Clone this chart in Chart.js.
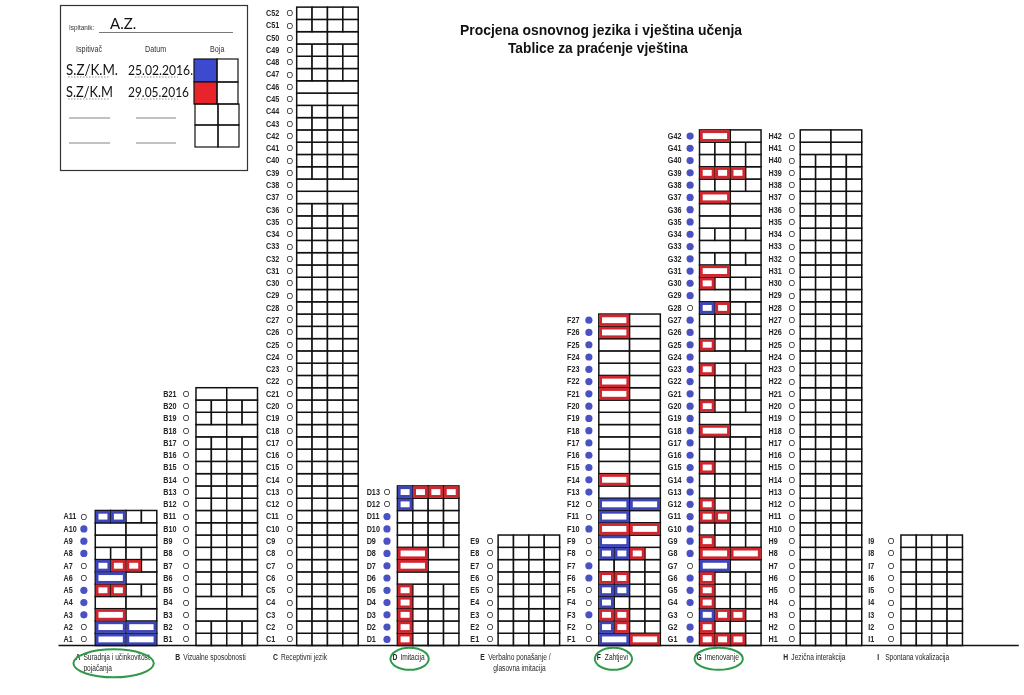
<!DOCTYPE html>
<html><head><meta charset="utf-8">
<script src="https://cdn.jsdelivr.net/npm/chart.js@4.4.0/dist/chart.umd.min.js"></script>
<style>html,body{margin:0;padding:0;background:#fff;overflow:hidden}canvas{display:block}</style>
</head><body>
<canvas id="c" width="1024" height="695"></canvas>
<script>
// ---------------- DATA ----------------
const groups = ['A','B','C','D','E','F','G','H','I'];
const groupNames = [
  ['Suradnja i učinkovitost','pojačanja'],
  ['Vizualne sposobnosti'],
  ['Receptivni jezik'],
  ['Imitacija'],
  ['Verbalno ponašanje /','glasovna imitacija'],
  ['Zahtjevi'],
  ['Imenovanje'],
  ['Jezična interakcija'],
  ['Spontana vokalizacija']
];
const circledGroups = ['A','D','F','G'];

// row markers, row 1 upward: 'o' = letter O, 'x' = blue dot
const markersA = 'ooxxxooxxxo';
const markersB = 'ooooooooooooooooooooo';
const markersC = 'oooooooooooooooooooooooooooooooooooooooooooooooooooo';
const markersD = 'xxxxxxxxxxxoo';
const markersE = 'ooooooooo';
const markersF = 'ooxooxxooxooxxxxxxxxxxxxxxx';
const markersG = 'xxoxxxoxxxxxxxxxxxxxxxxxxxxoxxxxxxxxxxxxxx';
const markersH = 'oooooooooooooooooooooooooooooooooooooooooo';
const markersI = 'ooooooooo';

// cells, row 1 upward: string length = number of cells (2 or 4);
// char: '.' empty, 'b' marked blue (25.02.2016), 'r' marked red (29.05.2016)
const cellsA = ['bb','bb','r.','..','rr..','b.','brr.','....','..','..','bb..'];
const cellsB = ['....','....','..','..','....','....','....','....','....','....','....','....','....','....','....','....','....','..','....','....','..'];
const cellsC = ['....','....','....','....','....','....','....','....','....','....',
                '....','....','....','....','....','....','....','....','....','....',
                '....','....','....','....','....','....','....','....','....','....',
                '....','....','....','....','....','....','..','..','....','....',
                '....','....','....','....','..','..','....','....','....','..',
                '....','....'];
const cellsD = ['r...','r...','r...','r...','r...','..','r.','r.','....','....','....','b...','brrr'];
const cellsE = ['....','....','....','....','....','....','....','....','....'];
const cellsF = ['br','br..','rr..','b...','bb..','rr..','....','bbr.','b.','rr','b.','bb','..','r.',
                '..','..','..','..','..','..','r.','r.','..','..','..','r.','r.'];
const cellsG = ['rrr.','r...','brr.','r...','r...','r...','b.','rr','r...','....','rr..','r...','....','....',
                'r...','....','....','r.','..','r...','....','....','r...','..','r...','....','....','br..',
                '..','r...','r.','....','..','....','..','..','r.','....','rrr.','....','....','r.'];
const cellsH = ['....','....','....','....','....','....','....','....','....','....',
                '....','....','....','....','....','....','....','....','....','....',
                '....','....','....','....','....','....','....','....','....','....',
                '....','....','....','....','....','....','....','....','....','....',
                '..','..'];
const cellsI = ['....','....','....','....','....','....','....','....','....'];

const examiners = ['S.Z/K.M.','S.Z/K.M'];
const examDates = ['25.02.2016.','29.05.2016'];
const subject = 'A.Z.';
const titleLines = ['Procjena osnovnog jezika i vještina učenja','Tablice za praćenje vještina'];

const markers = [markersA,markersB,markersC,markersD,markersE,markersF,markersG,markersH,markersI];
const cells = [cellsA,cellsB,cellsC,cellsD,cellsE,cellsF,cellsG,cellsH,cellsI];

// ---------------- LAYOUT / STYLE ----------------
const PX_GROUP = 101.5, PX_ROW = 12.42;
const X_MIN = -92 / PX_GROUP, X_MAX = X_MIN + 1024 / PX_GROUP;
const Y_MAX = 649 / PX_ROW, Y_MIN = Y_MAX - 695 / PX_ROW;
const GRID_W = 62 / PX_GROUP;
const labelDx = [-32,-33,-31,-31,-28,-32,-32,-32,-33];
const markDx  = [-11.5,-10,-7,-10.5,-8,-10,-9.5,-8.5,-10];
const captionDx = [-20,-21,-24,-5,-18,-2,-3,-17,-24];
const COLORS = {b:'#3d45b8', r:'#d2262f', dot:'#4a51c2', swB:'#3c4ad0', swR:'#e8232b', green:'#2e9a4a', ink:'#262626'};

function condText(ctx, text, x, y, sx, align) {
  ctx.save();
  ctx.translate(x, y);
  ctx.scale(sx, 1);
  ctx.textAlign = align || 'left';
  ctx.fillText(text, 0, 0);
  ctx.restore();
  return ctx.measureText(text).width * sx;
}

const sheetPlugin = {
  id: 'sheet',
  beforeDraw(chart) {
    const ctx = chart.ctx;
    ctx.save(); ctx.fillStyle = '#fff'; ctx.fillRect(0, 0, chart.width, chart.height); ctx.restore();
  },
  beforeDatasetsDraw(chart) {
    const {ctx, scales: {x, y}} = chart;
    const X = v => x.getPixelForValue(v), Y = v => y.getPixelForValue(v);
    ctx.save();
    // grid cells
    ctx.strokeStyle = '#111'; ctx.lineWidth = 1.5;
    cells.forEach((col, gi) => {
      col.forEach((code, ri) => {
        const r = ri + 1, n = code.length, w = GRID_W / n;
        for (let k = 0; k < n; k++) {
          const x0 = X(gi + k * w), x1 = X(gi + (k + 1) * w);
          const y0 = Y(r), y1 = Y(r - 1);
          ctx.fillStyle = '#fff';
          ctx.fillRect(x0, y0, x1 - x0, y1 - y0);
          ctx.strokeRect(x0, y0, x1 - x0, y1 - y0);
        }
      });
    });
    // marks
    ctx.lineWidth = 2.8;
    cells.forEach((col, gi) => {
      col.forEach((code, ri) => {
        const r = ri + 1, n = code.length, w = GRID_W / n;
        for (let k = 0; k < n; k++) {
          const c = code[k];
          if (c === '.') continue;
          const x0 = X(gi + k * w) + 1.8, x1 = X(gi + (k + 1) * w) - 1.8;
          const y0 = Y(r) + 1.8, y1 = Y(r - 1) - 1.8;
          ctx.strokeStyle = COLORS[c];
          ctx.strokeRect(x0, y0, x1 - x0, y1 - y0);
        }
      });
    });
    // baseline
    ctx.strokeStyle = '#111'; ctx.lineWidth = 1.6;
    ctx.beginPath(); ctx.moveTo(X(-0.365), Y(0)); ctx.lineTo(X(9.17), Y(0)); ctx.stroke();
    // row labels + O markers
    ctx.fillStyle = COLORS.ink; ctx.textBaseline = 'middle';
    markers.forEach((m, gi) => {
      for (let r = 1; r <= m.length; r++) {
        ctx.font = 'bold 8.5px "Liberation Sans", Arial, sans-serif';
        condText(ctx, groups[gi] + r, X(gi + labelDx[gi] / PX_GROUP), Y(r - 0.5) + 0.5, 0.85);
        if (m[r - 1] === 'o') {
          ctx.font = '9px "Liberation Sans", Arial, sans-serif';
          condText(ctx, 'O', X(gi + markDx[gi] / PX_GROUP), Y(r - 0.5) + 0.5, 0.95, 'center');
        }
      }
    });
    // captions
    groups.forEach((g, gi) => {
      const cx = X(gi + captionDx[gi] / PX_GROUP);
      const cy = Y(-1.0);
      ctx.fillStyle = COLORS.ink;
      ctx.font = 'bold 8.5px "Liberation Sans", Arial, sans-serif';
      condText(ctx, g, cx, cy, 0.8);
      ctx.font = '8.5px "Liberation Sans", Arial, sans-serif';
      const nx = cx + 8;
      const w1 = condText(ctx, groupNames[gi][0], nx, cy, 0.78);
      let lines = 1;
      if (groupNames[gi][1]) {
        lines = 2;
        if (g === 'E') condText(ctx, groupNames[gi][1], nx + w1 / 2, Y(-1.9), 0.78, 'center');
        else condText(ctx, groupNames[gi][1], nx, Y(-1.9), 0.78);
      }
      if (circledGroups.includes(g)) {
        ctx.strokeStyle = COLORS.green; ctx.lineWidth = 2;
        const left = cx - 1, right = nx + w1 + 3;
        const ecx = (left + right) / 2, rx = (right - left) / 2 + 1;
        const ecy = lines === 2 ? (cy + Y(-1.9)) / 2 : cy + 1;
        const ry = lines === 2 ? 14 : 11;
        ctx.beginPath(); ctx.ellipse(ecx, ecy, rx, ry, 0, 0, Math.PI * 2); ctx.stroke();
      }
    });
    // title
    ctx.fillStyle = '#111'; ctx.textAlign = 'center';
    ctx.font = 'bold 15px "Liberation Sans", Arial, sans-serif';
    ctx.fillText(titleLines[0], 601, 31, 282);
    ctx.fillText(titleLines[1], 598, 49, 180);
    // legend box
    ctx.textAlign = 'left';
    ctx.strokeStyle = '#333'; ctx.lineWidth = 1.2;
    ctx.strokeRect(60.5, 5.5, 187, 165);
    ctx.fillStyle = '#333';
    ctx.font = '8px "Liberation Sans", Arial, sans-serif';
    condText(ctx, 'Ispitanik:', 69, 28, 0.8);
    ctx.fillStyle = '#111';
    ctx.font = '15px Lato, "Open Sans", sans-serif';
    ctx.fillText(subject, 110, 24);
    ctx.strokeStyle = '#555'; ctx.lineWidth = 0.8;
    ctx.beginPath(); ctx.moveTo(99, 32.5); ctx.lineTo(233, 32.5); ctx.stroke();
    ctx.fillStyle = '#333';
    ctx.font = '9px "Liberation Sans", Arial, sans-serif';
    condText(ctx, 'Ispitivač', 76, 50, 0.8);
    condText(ctx, 'Datum', 145, 50, 0.8);
    condText(ctx, 'Boja', 210, 50, 0.8);
    ctx.fillStyle = '#111';
    const rowY = [70, 92];
    examiners.forEach((e, i) => {
      ctx.font = '15px Lato, "Open Sans", sans-serif';
      ctx.fillText(e, 66, rowY[i], i === 0 ? 52 : 47);
      ctx.font = '14px Lato, "Open Sans", sans-serif';
      ctx.fillText(examDates[i], 128, rowY[i], i === 0 ? 65 : 61);
      ctx.strokeStyle = '#777'; ctx.lineWidth = 0.8; ctx.setLineDash([1.5, 1.5]);
      ctx.beginPath(); ctx.moveTo(68, rowY[i] + 7); ctx.lineTo(110, rowY[i] + 7); ctx.stroke();
      ctx.beginPath(); ctx.moveTo(135, rowY[i] + 7); ctx.lineTo(178, rowY[i] + 7); ctx.stroke();
      ctx.setLineDash([]);
    });
    ctx.strokeStyle = '#666'; ctx.lineWidth = 0.8;
    [118, 143].forEach(yy => {
      ctx.beginPath(); ctx.moveTo(69, yy); ctx.lineTo(110, yy); ctx.stroke();
      ctx.beginPath(); ctx.moveTo(136, yy); ctx.lineTo(176, yy); ctx.stroke();
    });
    const sRows = [59, 82, 104, 125, 147], sCols = [194, 217, 238];
    for (let i = 0; i < 4; i++) {
      for (let j = 0; j < 2; j++) {
        const x0 = sCols[j] + (i >= 2 ? 1 : 0), x1 = sCols[j + 1] + (i >= 2 ? 1 : 0);
        if (j === 0 && i === 0) { ctx.fillStyle = COLORS.swB; ctx.fillRect(x0, sRows[i], x1 - x0, sRows[i + 1] - sRows[i]); }
        if (j === 0 && i === 1) { ctx.fillStyle = COLORS.swR; ctx.fillRect(x0, sRows[i], x1 - x0, sRows[i + 1] - sRows[i]); }
        ctx.strokeStyle = '#111'; ctx.lineWidth = 1.2;
        ctx.strokeRect(x0, sRows[i], x1 - x0, sRows[i + 1] - sRows[i]);
      }
    }
    ctx.restore();
  }
};

const dotPoints = [];
markers.forEach((m, gi) => {
  for (let r = 1; r <= m.length; r++) {
    if (m[r - 1] === 'x') dotPoints.push({x: gi + markDx[gi] / PX_GROUP, y: r - 0.5});
  }
});

new Chart(document.getElementById('c'), {
  type: 'scatter',
  data: { datasets: [{ data: dotPoints, pointRadius: 3.6, pointBackgroundColor: COLORS.dot, pointBorderWidth: 0, showLine: false }] },
  options: {
    responsive: false, animation: false, devicePixelRatio: 1, events: [],
    layout: { padding: 0 },
    plugins: { legend: { display: false }, tooltip: { enabled: false }, title: { display: false } },
    scales: {
      x: { type: 'linear', display: false, min: X_MIN, max: X_MAX },
      y: { type: 'linear', display: false, min: Y_MIN, max: Y_MAX }
    }
  },
  plugins: [sheetPlugin]
});
</script>
</body></html>
